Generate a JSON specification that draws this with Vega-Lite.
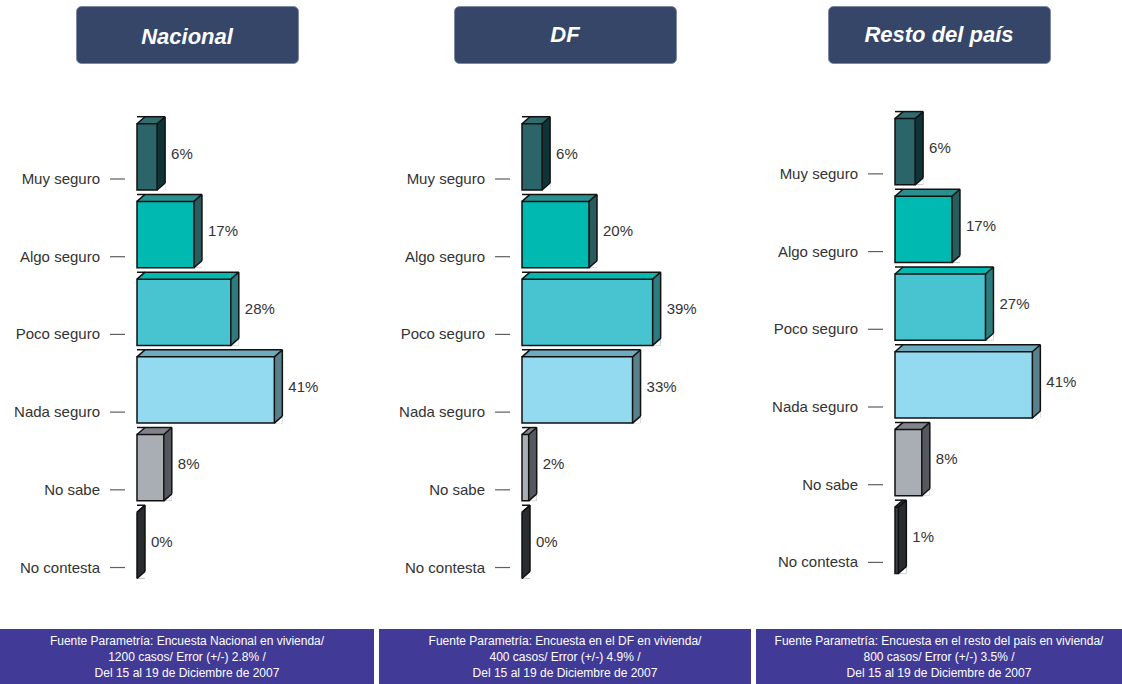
{
"$schema": "https://vega.github.io/schema/vega-lite/v6.json",
"padding": {"top": 5, "left": 0, "right": 0, "bottom": 0},
"background": "white",
"config": {"view": {"stroke": null}, "font": "Liberation Sans"},
"spacing": 5,
"hconcat": [
{"vconcat": [
 {"width": 222, "height": 57, "view": {"fill": "#364668", "stroke": "#7f89a3", "cornerRadius": 5},
  "data": {"values": [{"t": "Nacional"}]},
  "mark": {"type": "text", "font": "Liberation Sans", "fontSize": 22, "fontWeight": "bold", "fontStyle": "italic", "color": "white", "dy": 2},
  "encoding": {"text": {"field": "t", "type": "nominal"}}},
 {"width": 374, "height": 526, "view": {"stroke": null},
  "data": {"values": [
   {"cat": "Muy seguro", "v": 6, "label": "6%"},
   {"cat": "Algo seguro", "v": 17, "label": "17%"},
   {"cat": "Poco seguro", "v": 28, "label": "28%"},
   {"cat": "Nada seguro", "v": 41, "label": "41%"},
   {"cat": "No sabe", "v": 8, "label": "8%"},
   {"cat": "No contesta", "v": 0, "label": "0%"}]},
  "layer": [
   {"mark": {"type": "rule", "strokeWidth": 7, "yOffset": -3.5},
    "encoding": {"x": {"field": "v", "type": "quantitative", "scale": {"domain": [-40.896, 70.746], "nice": false}, "axis": null},
     "y": {"field": "cat", "type": "nominal", "bandPosition": 0, "scale": {"type": "band", "domain": ["Muy seguro","Algo seguro","Poco seguro","Nada seguro","No sabe","No contesta"], "paddingInner": 0.147, "paddingOuter": 0.458, "align": 0.572}, "axis": null},
     "color": {"field": "cat", "type": "nominal", "scale": {"domain": ["Muy seguro","Algo seguro","Poco seguro","Nada seguro","No sabe","No contesta"], "range": ["#2f6d71","#2b8f8f","#00b9b1","#6cabbd","#80848a","#3c4043"]}, "legend": null}}},
   {"mark": {"type": "rule", "strokeWidth": 73.3, "x2Offset": 8, "yOffset": -3.5},
    "encoding": {"x": {"field": "v", "type": "quantitative", "axis": null}, "x2": {"field": "v"},
     "y": {"field": "cat", "type": "nominal", "bandPosition": 0.5, "axis": null},
     "stroke": {"field": "cat", "type": "nominal", "scale": {"domain": ["Muy seguro","Algo seguro","Poco seguro","Nada seguro","No sabe","No contesta"], "range": ["#0e3437","#2a5c5e","#2d7b7e","#5a808c","#55585e","#2a2d30"]}, "legend": null}}},
   {"mark": {"type": "point", "shape": "M-1,-0.875L1,-0.875L-1,0.875Z", "size": 64, "filled": true, "opacity": 1, "strokeWidth": 0, "xOffset": 4, "yOffset": -3.5},
    "encoding": {"x": {"field": "v", "type": "quantitative", "axis": null},
     "y": {"field": "cat", "type": "nominal", "bandPosition": 0, "axis": null},
     "color": {"field": "cat", "type": "nominal", "scale": {"domain": ["Muy seguro","Algo seguro","Poco seguro","Nada seguro","No sabe","No contesta"], "range": ["#2f6d71","#2b8f8f","#00b9b1","#6cabbd","#80848a","#3c4043"]}, "legend": null}}},
   {"mark": {"type": "point", "shape": "M-1,-0.875L1,-0.875L-1,0.875Z", "size": 64, "filled": true, "opacity": 1, "strokeWidth": 0, "color": "white", "xOffset": 4, "yOffset": -3.5},
    "encoding": {"x": {"datum": 0, "type": "quantitative", "axis": null},
     "y": {"field": "cat", "type": "nominal", "bandPosition": 0, "axis": null}}},
   {"mark": {"type": "point", "shape": "M1,-0.875L1,0.875L-1,0.875Z", "size": 64, "filled": true, "opacity": 1, "strokeWidth": 0, "color": "white", "xOffset": 4, "yOffset": -3.5},
    "encoding": {"x": {"field": "v", "type": "quantitative", "axis": null},
     "y": {"field": "cat", "type": "nominal", "bandPosition": 1, "axis": null}}},
   {"mark": {"type": "bar", "stroke": "#111111", "strokeWidth": 1.5},
    "encoding": {"x": {"field": "v", "type": "quantitative", "axis": null},
     "y": {"field": "cat", "type": "nominal", "axis": null},
     "fill": {"field": "cat", "type": "nominal", "scale": {"domain": ["Muy seguro","Algo seguro","Poco seguro","Nada seguro","No sabe","No contesta"], "range": ["#2b6569","#00b9b1","#48c4d1","#93d9ef","#a9adb4","#3c4043"]}, "legend": null}}},
   {"mark": {"type": "point", "shape": "M-1,0.875L1,-0.875", "size": 64, "filled": false, "opacity": 1, "stroke": "#111111", "strokeWidth": 1.5, "xOffset": 4, "yOffset": -3.5},
    "encoding": {"x": {"datum": 0, "type": "quantitative", "axis": null},
     "y": {"field": "cat", "type": "nominal", "bandPosition": 0, "axis": null}}},
   {"mark": {"type": "rule", "color": "#111111", "strokeWidth": 1.5, "xOffset": 8, "yOffset": -7},
    "encoding": {"x": {"field": "v", "type": "quantitative", "axis": null},
     "y": {"field": "cat", "type": "nominal", "bandPosition": 0, "axis": null}}},
   {"mark": {"type": "point", "shape": "M-1,0.875L1,-0.875", "size": 64, "filled": false, "opacity": 1, "stroke": "#111111", "strokeWidth": 1.5, "xOffset": 4, "yOffset": -3.5},
    "encoding": {"x": {"field": "v", "type": "quantitative", "axis": null},
     "y": {"field": "cat", "type": "nominal", "bandPosition": 0, "axis": null}}},
   {"mark": {"type": "rect", "fillOpacity": 0, "stroke": "#111111", "strokeWidth": 1.5, "xOffset": 8, "x2Offset": 8, "yOffset": -7},
    "encoding": {"x": {"field": "v", "type": "quantitative", "axis": null}, "x2": {"field": "v"},
     "y": {"field": "cat", "type": "nominal", "axis": null}}},
   {"mark": {"type": "point", "shape": "M-1,0.875L1,-0.875", "size": 64, "filled": false, "opacity": 1, "stroke": "#111111", "strokeWidth": 1.5, "xOffset": 4, "yOffset": -3.5},
    "encoding": {"x": {"field": "v", "type": "quantitative", "axis": null},
     "y": {"field": "cat", "type": "nominal", "bandPosition": 1, "axis": null}}},
   {"mark": {"type": "tick", "orient": "horizontal", "size": 15, "thickness": 1.2, "color": "#1a1a1a", "xOffset": -19.5},
    "encoding": {"x": {"datum": 0, "type": "quantitative", "axis": null},
     "y": {"field": "cat", "type": "nominal", "bandPosition": 0.834, "axis": null}}},
   {"mark": {"type": "text", "align": "right", "baseline": "middle", "xOffset": -37, "fontSize": 15, "color": "#333333"},
    "encoding": {"x": {"datum": 0, "type": "quantitative", "axis": null},
     "y": {"field": "cat", "type": "nominal", "bandPosition": 0.834, "axis": null}, "text": {"field": "cat", "type": "nominal"}}},
   {"mark": {"type": "text", "align": "left", "baseline": "middle", "xOffset": 14, "fontSize": 15, "color": "#333333"},
    "encoding": {"x": {"field": "v", "type": "quantitative", "axis": null},
     "y": {"field": "cat", "type": "nominal", "bandPosition": 0.45, "axis": null}, "text": {"field": "label", "type": "nominal"}}}
  ]},
 {"width": 374, "height": 56, "view": {"fill": "#413b97", "stroke": null},
  "data": {"values": [{"t": "Fuente Parametría: Encuesta Nacional en vivienda/\n1200 casos/ Error (+/-) 2.8% /\nDel  15  al 19  de Diciembre de 2007"}]},
  "mark": {"type": "text", "lineBreak": "\n", "font": "Liberation Sans", "fontSize": 12, "lineHeight": 16, "dy": -16, "color": "white"},
  "encoding": {"text": {"field": "t", "type": "nominal"}}}
 ], "spacing": 20, "center": true, "bounds": "flush"},
{"vconcat": [
 {"width": 222, "height": 57, "view": {"fill": "#364668", "stroke": "#7f89a3", "cornerRadius": 5},
  "data": {"values": [{"t": "DF"}]},
  "mark": {"type": "text", "font": "Liberation Sans", "fontSize": 22, "fontWeight": "bold", "fontStyle": "italic", "color": "white"},
  "encoding": {"text": {"field": "t", "type": "nominal"}}},
 {"width": 372, "height": 526, "view": {"stroke": null},
  "data": {"values": [
   {"cat": "Muy seguro", "v": 6, "label": "6%"},
   {"cat": "Algo seguro", "v": 20, "label": "20%"},
   {"cat": "Poco seguro", "v": 39, "label": "39%"},
   {"cat": "Nada seguro", "v": 33, "label": "33%"},
   {"cat": "No sabe", "v": 2, "label": "2%"},
   {"cat": "No contesta", "v": 0, "label": "0%"}]},
  "layer": [
   {"mark": {"type": "rule", "strokeWidth": 7, "yOffset": -3.5},
    "encoding": {"x": {"field": "v", "type": "quantitative", "scale": {"domain": [-42.687, 68.358], "nice": false}, "axis": null},
     "y": {"field": "cat", "type": "nominal", "bandPosition": 0, "scale": {"type": "band", "domain": ["Muy seguro","Algo seguro","Poco seguro","Nada seguro","No sabe","No contesta"], "paddingInner": 0.147, "paddingOuter": 0.458, "align": 0.572}, "axis": null},
     "color": {"field": "cat", "type": "nominal", "scale": {"domain": ["Muy seguro","Algo seguro","Poco seguro","Nada seguro","No sabe","No contesta"], "range": ["#2f6d71","#2b8f8f","#00b9b1","#6cabbd","#80848a","#3c4043"]}, "legend": null}}},
   {"mark": {"type": "rule", "strokeWidth": 73.3, "x2Offset": 8, "yOffset": -3.5},
    "encoding": {"x": {"field": "v", "type": "quantitative", "axis": null}, "x2": {"field": "v"},
     "y": {"field": "cat", "type": "nominal", "bandPosition": 0.5, "axis": null},
     "stroke": {"field": "cat", "type": "nominal", "scale": {"domain": ["Muy seguro","Algo seguro","Poco seguro","Nada seguro","No sabe","No contesta"], "range": ["#0e3437","#2a5c5e","#2d7b7e","#5a808c","#55585e","#2a2d30"]}, "legend": null}}},
   {"mark": {"type": "point", "shape": "M-1,-0.875L1,-0.875L-1,0.875Z", "size": 64, "filled": true, "opacity": 1, "strokeWidth": 0, "xOffset": 4, "yOffset": -3.5},
    "encoding": {"x": {"field": "v", "type": "quantitative", "axis": null},
     "y": {"field": "cat", "type": "nominal", "bandPosition": 0, "axis": null},
     "color": {"field": "cat", "type": "nominal", "scale": {"domain": ["Muy seguro","Algo seguro","Poco seguro","Nada seguro","No sabe","No contesta"], "range": ["#2f6d71","#2b8f8f","#00b9b1","#6cabbd","#80848a","#3c4043"]}, "legend": null}}},
   {"mark": {"type": "point", "shape": "M-1,-0.875L1,-0.875L-1,0.875Z", "size": 64, "filled": true, "opacity": 1, "strokeWidth": 0, "color": "white", "xOffset": 4, "yOffset": -3.5},
    "encoding": {"x": {"datum": 0, "type": "quantitative", "axis": null},
     "y": {"field": "cat", "type": "nominal", "bandPosition": 0, "axis": null}}},
   {"mark": {"type": "point", "shape": "M1,-0.875L1,0.875L-1,0.875Z", "size": 64, "filled": true, "opacity": 1, "strokeWidth": 0, "color": "white", "xOffset": 4, "yOffset": -3.5},
    "encoding": {"x": {"field": "v", "type": "quantitative", "axis": null},
     "y": {"field": "cat", "type": "nominal", "bandPosition": 1, "axis": null}}},
   {"mark": {"type": "bar", "stroke": "#111111", "strokeWidth": 1.5},
    "encoding": {"x": {"field": "v", "type": "quantitative", "axis": null},
     "y": {"field": "cat", "type": "nominal", "axis": null},
     "fill": {"field": "cat", "type": "nominal", "scale": {"domain": ["Muy seguro","Algo seguro","Poco seguro","Nada seguro","No sabe","No contesta"], "range": ["#2b6569","#00b9b1","#48c4d1","#93d9ef","#a9adb4","#3c4043"]}, "legend": null}}},
   {"mark": {"type": "point", "shape": "M-1,0.875L1,-0.875", "size": 64, "filled": false, "opacity": 1, "stroke": "#111111", "strokeWidth": 1.5, "xOffset": 4, "yOffset": -3.5},
    "encoding": {"x": {"datum": 0, "type": "quantitative", "axis": null},
     "y": {"field": "cat", "type": "nominal", "bandPosition": 0, "axis": null}}},
   {"mark": {"type": "rule", "color": "#111111", "strokeWidth": 1.5, "xOffset": 8, "yOffset": -7},
    "encoding": {"x": {"field": "v", "type": "quantitative", "axis": null},
     "y": {"field": "cat", "type": "nominal", "bandPosition": 0, "axis": null}}},
   {"mark": {"type": "point", "shape": "M-1,0.875L1,-0.875", "size": 64, "filled": false, "opacity": 1, "stroke": "#111111", "strokeWidth": 1.5, "xOffset": 4, "yOffset": -3.5},
    "encoding": {"x": {"field": "v", "type": "quantitative", "axis": null},
     "y": {"field": "cat", "type": "nominal", "bandPosition": 0, "axis": null}}},
   {"mark": {"type": "rect", "fillOpacity": 0, "stroke": "#111111", "strokeWidth": 1.5, "xOffset": 8, "x2Offset": 8, "yOffset": -7},
    "encoding": {"x": {"field": "v", "type": "quantitative", "axis": null}, "x2": {"field": "v"},
     "y": {"field": "cat", "type": "nominal", "axis": null}}},
   {"mark": {"type": "point", "shape": "M-1,0.875L1,-0.875", "size": 64, "filled": false, "opacity": 1, "stroke": "#111111", "strokeWidth": 1.5, "xOffset": 4, "yOffset": -3.5},
    "encoding": {"x": {"field": "v", "type": "quantitative", "axis": null},
     "y": {"field": "cat", "type": "nominal", "bandPosition": 1, "axis": null}}},
   {"mark": {"type": "tick", "orient": "horizontal", "size": 15, "thickness": 1.2, "color": "#1a1a1a", "xOffset": -19.5},
    "encoding": {"x": {"datum": 0, "type": "quantitative", "axis": null},
     "y": {"field": "cat", "type": "nominal", "bandPosition": 0.834, "axis": null}}},
   {"mark": {"type": "text", "align": "right", "baseline": "middle", "xOffset": -37, "fontSize": 15, "color": "#333333"},
    "encoding": {"x": {"datum": 0, "type": "quantitative", "axis": null},
     "y": {"field": "cat", "type": "nominal", "bandPosition": 0.834, "axis": null}, "text": {"field": "cat", "type": "nominal"}}},
   {"mark": {"type": "text", "align": "left", "baseline": "middle", "xOffset": 14, "fontSize": 15, "color": "#333333"},
    "encoding": {"x": {"field": "v", "type": "quantitative", "axis": null},
     "y": {"field": "cat", "type": "nominal", "bandPosition": 0.45, "axis": null}, "text": {"field": "label", "type": "nominal"}}}
  ]},
 {"width": 372, "height": 56, "view": {"fill": "#413b97", "stroke": null},
  "data": {"values": [{"t": "Fuente Parametría: Encuesta en el DF en vivienda/\n400 casos/ Error (+/-) 4.9% /\nDel  15  al 19  de Diciembre de 2007"}]},
  "mark": {"type": "text", "lineBreak": "\n", "font": "Liberation Sans", "fontSize": 12, "lineHeight": 16, "dy": -16, "color": "white"},
  "encoding": {"text": {"field": "t", "type": "nominal"}}}
 ], "spacing": 20, "center": true, "bounds": "flush"},
{"vconcat": [
 {"width": 222, "height": 57, "view": {"fill": "#364668", "stroke": "#7f89a3", "cornerRadius": 5},
  "data": {"values": [{"t": "Resto del país"}]},
  "mark": {"type": "text", "font": "Liberation Sans", "fontSize": 22, "fontWeight": "bold", "fontStyle": "italic", "color": "white"},
  "encoding": {"text": {"field": "t", "type": "nominal"}}},
 {"width": 366, "height": 526, "view": {"stroke": null},
  "data": {"values": [
   {"cat": "Muy seguro", "v": 6, "label": "6%"},
   {"cat": "Algo seguro", "v": 17, "label": "17%"},
   {"cat": "Poco seguro", "v": 27, "label": "27%"},
   {"cat": "Nada seguro", "v": 41, "label": "41%"},
   {"cat": "No sabe", "v": 8, "label": "8%"},
   {"cat": "No contesta", "v": 1, "label": "1%"}]},
  "layer": [
   {"mark": {"type": "rule", "strokeWidth": 7, "yOffset": -3.5},
    "encoding": {"x": {"field": "v", "type": "quantitative", "scale": {"domain": [-41.493, 67.761], "nice": false}, "axis": null},
     "y": {"field": "cat", "type": "nominal", "bandPosition": 0, "scale": {"type": "band", "domain": ["Muy seguro","Algo seguro","Poco seguro","Nada seguro","No sabe","No contesta"], "paddingInner": 0.147, "paddingOuter": 0.458, "align": 0.5}, "axis": null},
     "color": {"field": "cat", "type": "nominal", "scale": {"domain": ["Muy seguro","Algo seguro","Poco seguro","Nada seguro","No sabe","No contesta"], "range": ["#2f6d71","#2b8f8f","#00b9b1","#6cabbd","#80848a","#3c4043"]}, "legend": null}}},
   {"mark": {"type": "rule", "strokeWidth": 73.3, "x2Offset": 8, "yOffset": -3.5},
    "encoding": {"x": {"field": "v", "type": "quantitative", "axis": null}, "x2": {"field": "v"},
     "y": {"field": "cat", "type": "nominal", "bandPosition": 0.5, "axis": null},
     "stroke": {"field": "cat", "type": "nominal", "scale": {"domain": ["Muy seguro","Algo seguro","Poco seguro","Nada seguro","No sabe","No contesta"], "range": ["#0e3437","#2a5c5e","#2d7b7e","#5a808c","#55585e","#2a2d30"]}, "legend": null}}},
   {"mark": {"type": "point", "shape": "M-1,-0.875L1,-0.875L-1,0.875Z", "size": 64, "filled": true, "opacity": 1, "strokeWidth": 0, "xOffset": 4, "yOffset": -3.5},
    "encoding": {"x": {"field": "v", "type": "quantitative", "axis": null},
     "y": {"field": "cat", "type": "nominal", "bandPosition": 0, "axis": null},
     "color": {"field": "cat", "type": "nominal", "scale": {"domain": ["Muy seguro","Algo seguro","Poco seguro","Nada seguro","No sabe","No contesta"], "range": ["#2f6d71","#2b8f8f","#00b9b1","#6cabbd","#80848a","#3c4043"]}, "legend": null}}},
   {"mark": {"type": "point", "shape": "M-1,-0.875L1,-0.875L-1,0.875Z", "size": 64, "filled": true, "opacity": 1, "strokeWidth": 0, "color": "white", "xOffset": 4, "yOffset": -3.5},
    "encoding": {"x": {"datum": 0, "type": "quantitative", "axis": null},
     "y": {"field": "cat", "type": "nominal", "bandPosition": 0, "axis": null}}},
   {"mark": {"type": "point", "shape": "M1,-0.875L1,0.875L-1,0.875Z", "size": 64, "filled": true, "opacity": 1, "strokeWidth": 0, "color": "white", "xOffset": 4, "yOffset": -3.5},
    "encoding": {"x": {"field": "v", "type": "quantitative", "axis": null},
     "y": {"field": "cat", "type": "nominal", "bandPosition": 1, "axis": null}}},
   {"mark": {"type": "bar", "stroke": "#111111", "strokeWidth": 1.5},
    "encoding": {"x": {"field": "v", "type": "quantitative", "axis": null},
     "y": {"field": "cat", "type": "nominal", "axis": null},
     "fill": {"field": "cat", "type": "nominal", "scale": {"domain": ["Muy seguro","Algo seguro","Poco seguro","Nada seguro","No sabe","No contesta"], "range": ["#2b6569","#00b9b1","#48c4d1","#93d9ef","#a9adb4","#3c4043"]}, "legend": null}}},
   {"mark": {"type": "point", "shape": "M-1,0.875L1,-0.875", "size": 64, "filled": false, "opacity": 1, "stroke": "#111111", "strokeWidth": 1.5, "xOffset": 4, "yOffset": -3.5},
    "encoding": {"x": {"datum": 0, "type": "quantitative", "axis": null},
     "y": {"field": "cat", "type": "nominal", "bandPosition": 0, "axis": null}}},
   {"mark": {"type": "rule", "color": "#111111", "strokeWidth": 1.5, "xOffset": 8, "yOffset": -7},
    "encoding": {"x": {"field": "v", "type": "quantitative", "axis": null},
     "y": {"field": "cat", "type": "nominal", "bandPosition": 0, "axis": null}}},
   {"mark": {"type": "point", "shape": "M-1,0.875L1,-0.875", "size": 64, "filled": false, "opacity": 1, "stroke": "#111111", "strokeWidth": 1.5, "xOffset": 4, "yOffset": -3.5},
    "encoding": {"x": {"field": "v", "type": "quantitative", "axis": null},
     "y": {"field": "cat", "type": "nominal", "bandPosition": 0, "axis": null}}},
   {"mark": {"type": "rect", "fillOpacity": 0, "stroke": "#111111", "strokeWidth": 1.5, "xOffset": 8, "x2Offset": 8, "yOffset": -7},
    "encoding": {"x": {"field": "v", "type": "quantitative", "axis": null}, "x2": {"field": "v"},
     "y": {"field": "cat", "type": "nominal", "axis": null}}},
   {"mark": {"type": "point", "shape": "M-1,0.875L1,-0.875", "size": 64, "filled": false, "opacity": 1, "stroke": "#111111", "strokeWidth": 1.5, "xOffset": 4, "yOffset": -3.5},
    "encoding": {"x": {"field": "v", "type": "quantitative", "axis": null},
     "y": {"field": "cat", "type": "nominal", "bandPosition": 1, "axis": null}}},
   {"mark": {"type": "tick", "orient": "horizontal", "size": 15, "thickness": 1.2, "color": "#1a1a1a", "xOffset": -19.5},
    "encoding": {"x": {"datum": 0, "type": "quantitative", "axis": null},
     "y": {"field": "cat", "type": "nominal", "bandPosition": 0.834, "axis": null}}},
   {"mark": {"type": "text", "align": "right", "baseline": "middle", "xOffset": -37, "fontSize": 15, "color": "#333333"},
    "encoding": {"x": {"datum": 0, "type": "quantitative", "axis": null},
     "y": {"field": "cat", "type": "nominal", "bandPosition": 0.834, "axis": null}, "text": {"field": "cat", "type": "nominal"}}},
   {"mark": {"type": "text", "align": "left", "baseline": "middle", "xOffset": 14, "fontSize": 15, "color": "#333333"},
    "encoding": {"x": {"field": "v", "type": "quantitative", "axis": null},
     "y": {"field": "cat", "type": "nominal", "bandPosition": 0.45, "axis": null}, "text": {"field": "label", "type": "nominal"}}}
  ]},
 {"width": 366, "height": 56, "view": {"fill": "#413b97", "stroke": null},
  "data": {"values": [{"t": "Fuente Parametría: Encuesta en el resto del país en vivienda/\n800 casos/ Error (+/-) 3.5% /\nDel  15  al 19  de Diciembre de 2007"}]},
  "mark": {"type": "text", "lineBreak": "\n", "font": "Liberation Sans", "fontSize": 12, "lineHeight": 16, "dy": -16, "color": "white"},
  "encoding": {"text": {"field": "t", "type": "nominal"}}}
 ], "spacing": 20, "center": true, "bounds": "flush"}
]
}
